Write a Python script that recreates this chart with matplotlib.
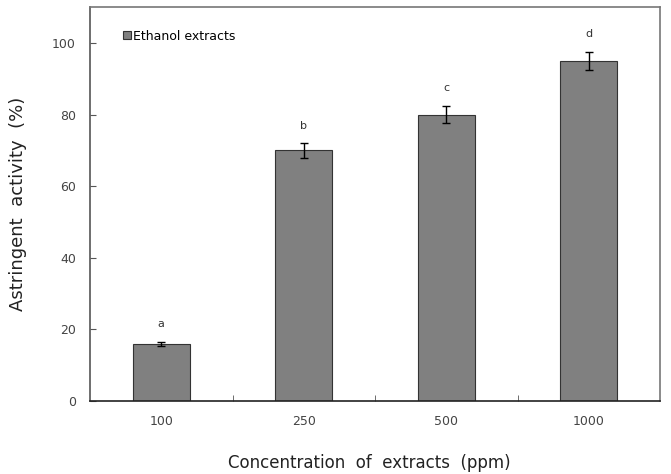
import numpy as np
from matplotlib import pyplot as plt

categories = ['100', '250', '500', '1000']
values = [16, 70, 80, 95]
errors = [0.6, 2.0, 2.5, 2.5]
letters = ['a', 'b', 'c', 'd']

fig = plt.figure(figsize=(6.71, 4.74), dpi=100)
ax = fig.add_axes([0.134, 0.154, 0.850, 0.831])

x = np.arange(len(categories))
ax.bar(x, values, width=0.4, color='#808080', edgecolor='#333333', linewidth=0.8,
       yerr=errors, capsize=3, error_kw=dict(ecolor='black', elinewidth=1),
       label='Ethanol extracts')

for xi, v, e, l in zip(x, values, errors, letters):
    ax.text(xi, v + e + 3.5, l, ha='center', va='bottom', fontsize=8, color='#333333')

ax.set_xlim(-0.5, 3.5)
ax.set_ylim(0, 110)
ax.set_yticks([0, 20, 40, 60, 80, 100])
ax.set_xticks(x)
ax.set_xticklabels(categories)
ax.set_xticks(np.arange(0.5, 3.0, 1.0), minor=True)
ax.tick_params(axis='both', which='both', direction='in', labelsize=9,
               labelcolor='#444444', color='#555555', pad=10)
ax.tick_params(axis='x', which='major', length=0)
ax.tick_params(axis='x', which='minor', length=4)
ax.tick_params(axis='y', length=4)
for s in ax.spines.values():
    s.set_color('#777777')
    s.set_linewidth(1.2)
ax.spines['bottom'].set_color('#222222')
ax.spines['left'].set_color('#555555')

ax.set_ylabel('Astringent  activity  (%)', fontsize=13, color='#222222', labelpad=18)
fig.text(0.55, 1 - 454 / 474, 'Concentration  of  extracts  (ppm)', ha='center', va='top',
         fontsize=12, color='#222222')

ax.legend(loc='upper left', frameon=False, fontsize=9, handlelength=0.6, handleheight=0.6,
          handletextpad=0.2, bbox_to_anchor=(0.05, 0.955), borderaxespad=0)

plt.savefig('out.png', dpi=100)
